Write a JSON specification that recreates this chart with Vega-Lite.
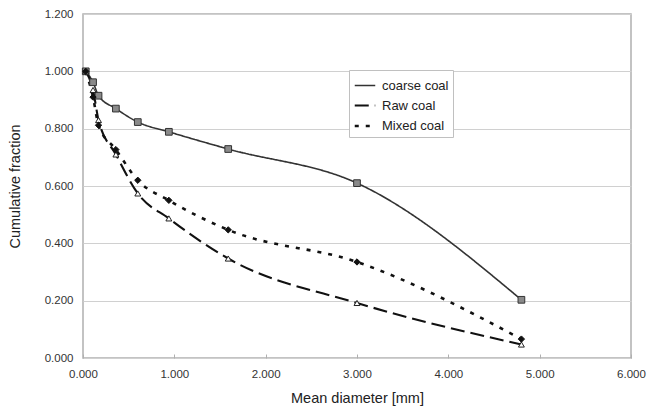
{
  "$schema": "https://vega.github.io/schema/vega-lite/v6.json",
  "width": 548,
  "height": 344,
  "autosize": {"type": "none"},
  "padding": {"left": 83, "top": 14, "right": 20, "bottom": 58},
  "background": "white",
  "config": {
    "view": {"stroke": "#b0b0b0", "strokeWidth": 1.5},
    "font": "Liberation Sans",
    "axis": {"labelFont": "Liberation Sans", "titleFont": "Liberation Sans", "labelColor": "#333", "titleColor": "#222", "titleFontWeight": "normal", "labelFontSize": 11.5, "titleFontSize": 14.5, "domain": false, "labelFlush": false}
  },
  "data": {
    "values": [
      {"series": "coarse coal", "d": 0.03, "f": 1.0},
      {"series": "coarse coal", "d": 0.11, "f": 0.962},
      {"series": "coarse coal", "d": 0.17, "f": 0.915},
      {"series": "coarse coal", "d": 0.36, "f": 0.87},
      {"series": "coarse coal", "d": 0.6, "f": 0.823},
      {"series": "coarse coal", "d": 0.94, "f": 0.789},
      {"series": "coarse coal", "d": 1.59, "f": 0.729},
      {"series": "coarse coal", "d": 3.0, "f": 0.61},
      {"series": "coarse coal", "d": 4.8, "f": 0.203},
      {"series": "Raw coal", "d": 0.03, "f": 1.0},
      {"series": "Raw coal", "d": 0.11, "f": 0.935},
      {"series": "Raw coal", "d": 0.17, "f": 0.83},
      {"series": "Raw coal", "d": 0.36, "f": 0.71},
      {"series": "Raw coal", "d": 0.6, "f": 0.574},
      {"series": "Raw coal", "d": 0.94, "f": 0.487},
      {"series": "Raw coal", "d": 1.59, "f": 0.347},
      {"series": "Raw coal", "d": 3.0, "f": 0.192},
      {"series": "Raw coal", "d": 4.8, "f": 0.047},
      {"series": "Mixed coal", "d": 0.03, "f": 1.0},
      {"series": "Mixed coal", "d": 0.11, "f": 0.91},
      {"series": "Mixed coal", "d": 0.17, "f": 0.812},
      {"series": "Mixed coal", "d": 0.36, "f": 0.727},
      {"series": "Mixed coal", "d": 0.6, "f": 0.62},
      {"series": "Mixed coal", "d": 0.94, "f": 0.55},
      {"series": "Mixed coal", "d": 1.59, "f": 0.447},
      {"series": "Mixed coal", "d": 3.0, "f": 0.335},
      {"series": "Mixed coal", "d": 4.8, "f": 0.066}
    ]
  },
  "encoding": {
    "x": {"field": "d", "type": "quantitative", "scale": {"domain": [0, 6], "nice": false},
      "axis": {"title": "Mean diameter [mm]", "values": [0, 1, 2, 3, 4, 5, 6], "format": ".3f", "grid": false, "tickSize": -4, "tickColor": "#b0b0b0", "labelPadding": 14, "titlePadding": 12}},
    "y": {"field": "f", "type": "quantitative", "scale": {"domain": [0, 1.2], "nice": false},
      "axis": {"title": "Cumulative fraction", "values": [0, 0.2, 0.4, 0.6, 0.8, 1.0, 1.2], "format": ".3f", "grid": true, "gridColor": "#d0d0d0", "ticks": false, "labelPadding": 10, "titlePadding": 22}}
  },
  "layer": [
    {
      "mark": {"type": "line", "interpolate": "monotone"},
      "encoding": {
        "strokeDash": {"field": "series", "type": "nominal",
          "scale": {"domain": ["coarse coal", "Raw coal", "Mixed coal"], "range": [[1, 0], [14, 6], [4, 7]]},
          "legend": {"title": null, "orient": "none", "legendX": 266, "legendY": 56, "fillColor": "white", "strokeColor": "#c0c0c0", "padding": 4, "labelFontSize": 13, "labelFont": "Liberation Sans", "labelColor": "#222", "symbolType": "stroke", "symbolSize": 420, "rowPadding": 1, "labelOffset": 5}},
        "color": {"field": "series", "type": "nominal", "scale": {"domain": ["coarse coal", "Raw coal", "Mixed coal"], "range": ["#333333", "#111111", "#111111"]}},
        "strokeWidth": {"field": "series", "type": "nominal", "scale": {"domain": ["coarse coal", "Raw coal", "Mixed coal"], "range": [1.6, 2.6, 3]}}
      }
    },
    {
      "transform": [{"filter": "datum.series === 'coarse coal'"}],
      "mark": {"type": "point", "shape": "square", "filled": true, "fill": "#8a8a8a", "stroke": "#333333", "strokeWidth": 1, "size": 45, "opacity": 1}
    },
    {
      "transform": [{"filter": "datum.series === 'Raw coal'"}],
      "mark": {"type": "point", "shape": "triangle-up", "filled": true, "fill": "#ffffff", "stroke": "#222222", "strokeWidth": 1, "size": 35, "opacity": 1}
    },
    {
      "transform": [{"filter": "datum.series === 'Mixed coal'"}],
      "mark": {"type": "point", "shape": "diamond", "filled": true, "fill": "#111111", "stroke": "#111111", "strokeWidth": 1, "size": 40, "opacity": 1}
    }
  ]
}
